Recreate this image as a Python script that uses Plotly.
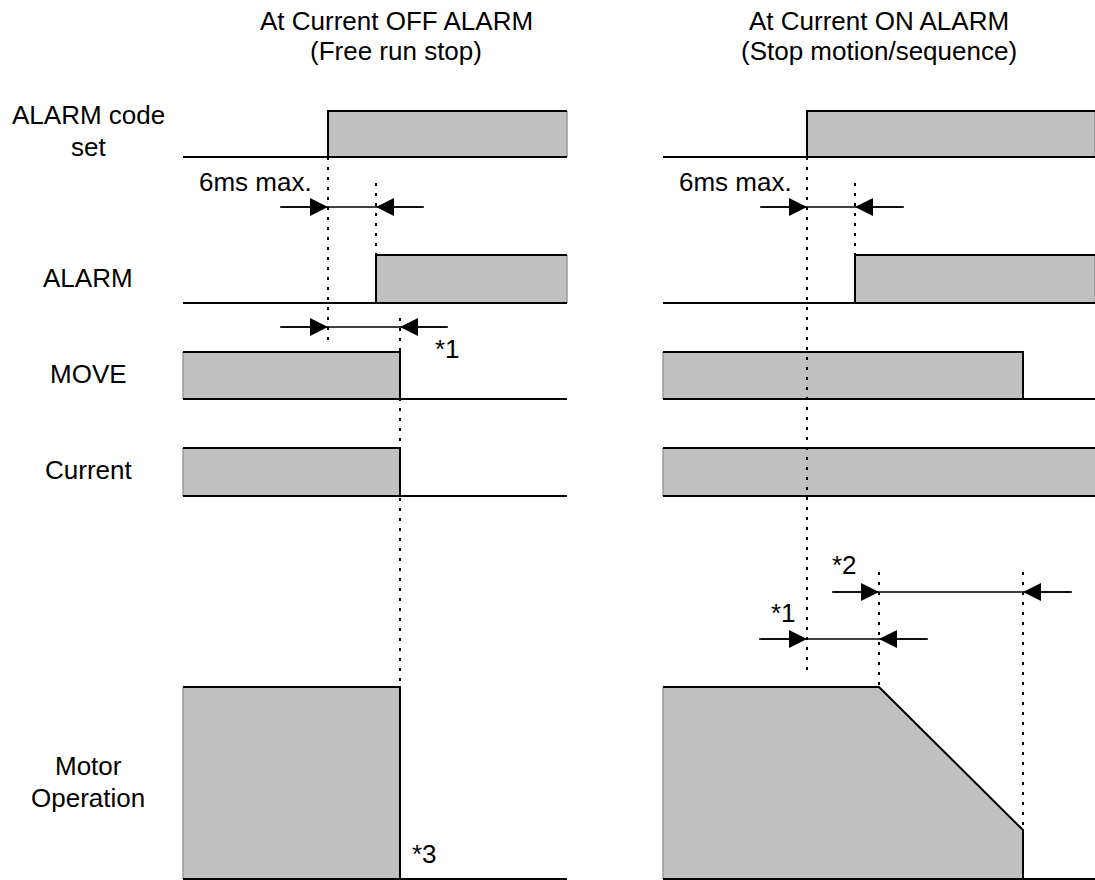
import plotly.graph_objects as go

# ---------------- data (time axis units) ----------------
signal_labels = [["ALARM code", "set"], ["ALARM"], ["MOVE"], ["Current"], ["Motor", "Operation"]]
panel_titles = [["At Current OFF ALARM", "(Free run stop)"],
                ["At Current ON ALARM", "(Stop motion/sequence)"]]
panel_start = [183, 663]
panel_end = [567, 1095]

# Current OFF alarm (free run stop)
off_code_set_on = 328
off_alarm_on = 376
off_move_off = 400
off_current_off = 400
off_motor_stop = 400

# Current ON alarm (stop motion / sequence)
on_code_set_on = 807
on_alarm_on = 855
on_move_off = 1023
on_decel_start = 879
on_decel_end = 1023
on_decel_end_level = 0.255  # relative speed at the moment of stop

# dimension arrows: (left tail, left tip, right tip, right tail)
dim_left_6ms = (280, off_code_set_on, off_alarm_on, 424)
dim_left_1 = (280, off_code_set_on, off_move_off, 448)
dim_right_6ms = (760, on_code_set_on, on_alarm_on, 904)
dim_right_1 = (759, on_code_set_on, on_decel_start, 928)
dim_right_2 = (832, on_decel_start, on_decel_end, 1072)

# ---------------- layout (rows) ----------------
row_high = [111, 255, 352, 448, 687]
row_low = [157, 303, 399, 496, 879]

FILL = "#c0c0c0"
INK = "black"
FONT = dict(family="Liberation Sans, Arial, sans-serif", size=26, color="black")

fig = go.Figure()


def line(xs, ys, width=2, dash=None, color=INK):
    fig.add_trace(go.Scatter(x=xs, y=ys, mode="lines", hoverinfo="skip",
                             line=dict(color=color, width=width, dash=dash),
                             showlegend=False))


def poly(xs, ys):
    fig.add_trace(go.Scatter(x=xs + [xs[0]], y=ys + [ys[0]], mode="lines",
                             fill="toself", fillcolor=FILL, hoverinfo="skip",
                             line=dict(width=0, color=FILL), showlegend=False))


def rising(row, t_on, p):
    hi, lo = row_high[row], row_low[row]
    x1 = panel_end[p]
    poly([t_on, t_on, x1, x1], [lo, hi, hi, lo])
    line([x1, x1], [hi, lo], width=1.5, color="#9a9a9a")
    line([panel_start[p], x1], [lo, lo])
    line([t_on, t_on, x1], [lo, hi, hi])


def falling(row, t_off, p):
    hi, lo = row_high[row], row_low[row]
    x0 = panel_start[p]
    poly([x0, x0, t_off, t_off], [lo, hi, hi, lo])
    line([x0, x0], [hi, lo], width=1.5, color="#9a9a9a")
    line([x0, panel_end[p]], [lo, lo])
    line([x0, t_off, t_off], [hi, hi, lo])


def always_on(row, p):
    hi, lo = row_high[row], row_low[row]
    x0, x1 = panel_start[p], panel_end[p]
    poly([x0, x0, x1, x1], [lo, hi, hi, lo])
    line([x0, x0], [hi, lo], width=1.5, color="#9a9a9a")
    line([x0, x1], [lo, lo])
    line([x0, x1], [hi, hi])


# --- left panel
rising(0, off_code_set_on, 0)
rising(1, off_alarm_on, 0)
falling(2, off_move_off, 0)
falling(3, off_current_off, 0)
falling(4, off_motor_stop, 0)

# --- right panel
rising(0, on_code_set_on, 1)
rising(1, on_alarm_on, 1)
falling(2, on_move_off, 1)
always_on(3, 1)
hi, lo = row_high[4], row_low[4]
y_end = lo - on_decel_end_level * (lo - hi)
x0 = panel_start[1]
poly([x0, x0, on_decel_start, on_decel_end, on_decel_end],
     [lo, hi, hi, y_end, lo])
line([x0, x0], [hi, lo], width=1.5, color="#9a9a9a")
line([x0, panel_end[1]], [lo, lo])
line([x0, on_decel_start, on_decel_end, on_decel_end], [hi, hi, y_end, lo])

# --- dotted guide lines
DOT = "3px,7px"
guides = [
    (off_code_set_on, row_low[0], 340),
    (off_alarm_on, 183, row_high[1]),
    (off_move_off, 318, row_high[4]),
    (on_code_set_on, row_low[0], 675),
    (on_alarm_on, 183, row_high[1]),
    (on_decel_start, 572, row_high[4]),
    (on_decel_end, 572, y_end),
]
for gx, gy0, gy1 in guides:
    line([gx, gx], [gy0, gy1], width=2, dash=DOT)

# --- dimension arrows
annotations = []


def dim(spec, y):
    tl, ta, tb, tr = spec
    line([tl, tr], [y, y], width=1.5)
    for tip, tail in ((ta, tl), (tb, tr)):
        annotations.append(dict(x=tip, y=y, ax=tail, ay=y, xref="x", yref="y",
                                axref="x", ayref="y", text="", showarrow=True,
                                arrowhead=2, arrowsize=2.4, arrowwidth=1.5,
                                arrowcolor=INK, standoff=0))


dim(dim_left_6ms, 207)
dim(dim_left_1, 327)
dim(dim_right_6ms, 207)
dim(dim_right_1, 639)
dim(dim_right_2, 592)


def text(s, x, y):
    annotations.append(dict(x=x, y=y - 1, xref="x", yref="y", text=s, showarrow=False,
                            font=FONT, xanchor="center", yanchor="middle", align="center"))


# titles
for (l1, l2), cx in zip(panel_titles, [396, 879]):
    text(l1, cx, 22)
    text(l2, cx, 52)
# row labels
label_y = [[116, 148], [279], [375], [471], [767, 799]]
for lines, ys in zip(signal_labels, label_y):
    for s, ly in zip(lines, ys):
        text(s, 88, ly)
# notes
text("6ms max.", 255, 183)
text("6ms max.", 735, 183)
text("*1", 447, 350)
text("*3", 424, 855)
text("*2", 844, 566)
text("*1", 783, 614)

fig.update_layout(
    width=1095, height=880,
    margin=dict(l=0, r=0, t=0, b=0),
    paper_bgcolor="white", plot_bgcolor="white",
    xaxis=dict(range=[0, 1095], visible=False, fixedrange=True),
    yaxis=dict(range=[880, 0], visible=False, fixedrange=True),
    annotations=annotations,
    showlegend=False,
)

fig.write_html("out.html", config={"displayModeBar": False},
               post_script="document.body.style.margin='0';")
